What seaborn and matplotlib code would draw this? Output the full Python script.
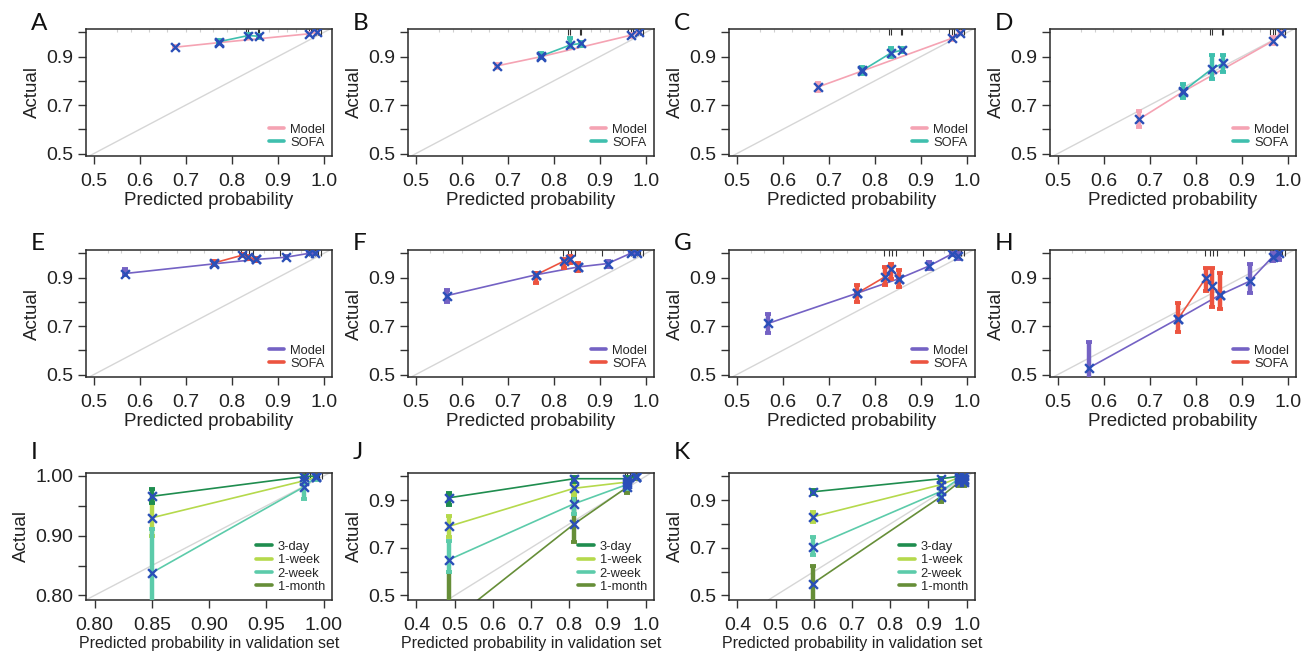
import numpy as np
import pandas as pd
import matplotlib
matplotlib.use("Agg")
import matplotlib.pyplot as plt
from matplotlib.lines import Line2D
import seaborn as sns

# ---------------- data ----------------
# Panels A-D (Model vs SOFA)
X_MODEL_AD = [0.677, 0.773, 0.967, 0.985]
X_SOFA_AD = [0.773, 0.836, 0.860]

A_MODEL_Y = [0.939, 0.958, 0.994, 1.000]
A_MODEL_LO = [0.934, 0.953, 0.990, 0.998]
A_MODEL_HI = [0.945, 0.964, 0.997, 1.000]
A_SOFA_Y = [0.962, 0.987, 0.984]
A_SOFA_LO = [0.956, 0.981, 0.978]
A_SOFA_HI = [0.967, 0.992, 0.990]

B_MODEL_Y = [0.862, 0.900, 0.988, 1.000]
B_MODEL_LO = [0.852, 0.893, 0.983, 0.998]
B_MODEL_HI = [0.870, 0.907, 0.993, 1.000]
B_SOFA_Y = [0.903, 0.948, 0.955]
B_SOFA_LO = [0.893, 0.940, 0.945]
B_SOFA_HI = [0.913, 0.975, 0.962]

C_MODEL_Y = [0.775, 0.841, 0.975, 0.999]
C_MODEL_LO = [0.760, 0.835, 0.968, 0.996]
C_MODEL_HI = [0.790, 0.848, 0.982, 1.000]
C_SOFA_Y = [0.843, 0.916, 0.927]
C_SOFA_LO = [0.828, 0.897, 0.918]
C_SOFA_HI = [0.857, 0.935, 0.937]

D_MODEL_Y = [0.642, 0.756, 0.964, 0.999]
D_MODEL_LO = [0.610, 0.745, 0.953, 0.995]
D_MODEL_HI = [0.675, 0.768, 0.983, 1.000]
D_SOFA_Y = [0.758, 0.851, 0.873]
D_SOFA_LO = [0.728, 0.808, 0.838]
D_SOFA_HI = [0.787, 0.905, 0.905]

# Panels E-H (Model vs SOFA)
X_MODEL_EH = [0.568, 0.762, 0.853, 0.917, 0.967, 0.982]
X_SOFA_EH = [0.762, 0.822, 0.836, 0.853]

E_MODEL_Y = [0.917, 0.957, 0.975, 0.984, 1.000, 1.000]
E_MODEL_LO = [0.912, 0.952, 0.970, 0.979, 0.997, 0.997]
E_MODEL_HI = [0.935, 0.962, 0.980, 0.989, 1.000, 1.000]
E_SOFA_Y = [0.961, 0.992, 0.985, 0.975]
E_SOFA_LO = [0.952, 0.988, 0.978, 0.968]
E_SOFA_HI = [0.968, 0.997, 0.991, 0.980]

F_MODEL_Y = [0.826, 0.912, 0.944, 0.958, 1.000, 1.000]
F_MODEL_LO = [0.800, 0.905, 0.935, 0.945, 0.996, 0.996]
F_MODEL_HI = [0.850, 0.920, 0.952, 0.970, 1.000, 1.000]
F_SOFA_Y = [0.912, 0.968, 0.976, 0.944]
F_SOFA_LO = [0.878, 0.940, 0.960, 0.928]
F_SOFA_HI = [0.918, 0.976, 0.990, 0.960]

G_MODEL_Y = [0.711, 0.836, 0.896, 0.947, 0.997, 0.989]
G_MODEL_LO = [0.670, 0.830, 0.890, 0.935, 0.993, 0.975]
G_MODEL_HI = [0.750, 0.842, 0.902, 0.965, 1.000, 1.000]
G_SOFA_Y = [0.836, 0.903, 0.937, 0.896]
G_SOFA_LO = [0.800, 0.868, 0.895, 0.862]
G_SOFA_HI = [0.870, 0.945, 0.955, 0.930]

H_MODEL_Y = [0.528, 0.731, 0.829, 0.885, 0.986, 1.000]
H_MODEL_LO = [0.450, 0.725, 0.823, 0.835, 0.970, 0.972]
H_MODEL_HI = [0.635, 0.737, 0.835, 0.955, 1.000, 1.000]
H_SOFA_Y = [0.731, 0.899, 0.864, 0.829]
H_SOFA_LO = [0.675, 0.845, 0.780, 0.770]
H_SOFA_HI = [0.795, 0.940, 0.940, 0.920]

# Panels I-K (validation set, horizons)
HORIZONS = ["3-day", "1-week", "2-week", "1-month"]

X_I = [0.850, 0.983, 0.993]
I_3D_Y = [0.966, 0.999, 1.000]
I_3D_LO = [0.955, 0.996, 0.999]
I_3D_HI = [0.979, 1.000, 1.000]
I_1W_Y = [0.930, 0.992, 0.998]
I_1W_LO = [0.900, 0.985, 0.995]
I_1W_HI = [0.958, 0.998, 1.000]
I_2W_Y = [0.838, 0.982, 0.998]
I_2W_LO = [0.750, 0.962, 0.994]
I_2W_HI = [0.911, 1.000, 1.000]

X_J = [0.485, 0.813, 0.952, 0.975]
J_3D_Y = [0.910, 0.990, 0.990, 1.000]
J_3D_LO = [0.880, 0.978, 0.983, 0.997]
J_3D_HI = [0.930, 0.996, 0.996, 1.000]
J_1W_Y = [0.790, 0.950, 0.976, 0.998]
J_1W_LO = [0.745, 0.920, 0.960, 0.994]
J_1W_HI = [0.835, 0.975, 0.990, 1.000]
J_2W_Y = [0.650, 0.885, 0.966, 0.998]
J_2W_LO = [0.600, 0.840, 0.948, 0.993]
J_2W_HI = [0.730, 0.935, 0.980, 1.000]
J_1M_Y = [0.385, 0.800, 0.955, 0.998]
J_1M_LO = [0.300, 0.725, 0.930, 0.990]
J_1M_HI = [0.600, 0.905, 0.985, 1.000]

X_K = [0.597, 0.933, 0.980, 0.993]
K_3D_Y = [0.935, 0.990, 1.000, 1.000]
K_3D_LO = [0.925, 0.984, 0.997, 0.997]
K_3D_HI = [0.942, 0.995, 1.000, 1.000]
K_1W_Y = [0.830, 0.965, 0.995, 0.990]
K_1W_LO = [0.810, 0.950, 0.990, 0.984]
K_1W_HI = [0.852, 0.980, 1.000, 0.995]
K_2W_Y = [0.705, 0.937, 0.990, 0.985]
K_2W_LO = [0.668, 0.915, 0.980, 0.975]
K_2W_HI = [0.745, 0.960, 1.000, 0.995]
K_1M_Y = [0.550, 0.915, 0.975, 0.975]
K_1M_LO = [0.460, 0.893, 0.960, 0.960]
K_1M_HI = [0.625, 0.962, 0.990, 0.990]

# rug marks (distribution of predictions) at top of panels
RUG_AD_DARK = [0.830, 0.836, 0.856, 0.860, 0.962, 0.967, 0.972, 0.978, 0.983, 0.988, 0.993]
RUG_AD_LIGHT = [0.55, 0.58, 0.62, 0.66, 0.70, 0.73, 0.76, 0.79, 0.81, 0.88, 0.90, 0.92, 0.94]
RUG_EH_DARK = [0.820, 0.831, 0.838, 0.847, 0.905, 0.962, 0.968, 0.975, 0.981, 0.987, 0.993]
RUG_EH_LIGHT = [0.53, 0.56, 0.60, 0.64, 0.68, 0.71, 0.74, 0.78, 0.80, 0.87, 0.89, 0.93, 0.95]
RUG_I_DARK = [0.984, 0.988, 0.992, 0.996, 0.999]
RUG_J_DARK = [0.945, 0.952, 0.958, 0.965, 0.975, 0.980]
RUG_K_DARK = [0.972, 0.978, 0.984, 0.990]

# ---------------- style ----------------
PINK = "#F5A3B3"
TEAL = "#3FBFAE"
PURPLE = "#7462C4"
RED = "#EC5440"
XBLUE = "#2A4FB8"
HCOL = {"3-day": "#1F8D4F", "1-week": "#B5D94C", "2-week": "#5CCBAA", "1-month": "#668E38"}

sns.set_style("ticks")
plt.rcParams["font.family"] = ["Liberation Sans", "DejaVu Sans"]

FW, FH = 1309, 656
fig = plt.figure(figsize=(FW / 100, FH / 100), dpi=100)

COL_LEFT = [86, 408, 729, 1050]
ROW_TOP = [29, 250, 473]
LETTER_TOP = [13, 233, 442]
AX_W, AX_H = 246, 127


def make_ax(r, c):
    l = COL_LEFT[c] / FW
    b = 1 - (ROW_TOP[r] + AX_H) / FH
    return fig.add_axes([l, b, AX_W / FW, AX_H / FH])


def draw_panel(ax, series, xlim, ylim, xticks, xtl, yticks, ytl, xlabel,
               xlabel_size, letter, r, c, rug_dark, rug_light, leg_names, leg_cols):
    frames = []
    for name, xs, ys, lo, hi, col in series:
        frames.append(pd.DataFrame({"x": xs, "y": ys, "series": name}))
    df = pd.concat(frames, ignore_index=True)
    pal = {s[0]: s[5] for s in series}
    ax.axline((0.5, 0.5), (1.0, 1.0), color="#d6d6d6", lw=1.0, zorder=1)
    sns.lineplot(data=df, x="x", y="y", hue="series", palette=pal, estimator=None,
                 sort=False, legend=False, ax=ax, lw=1.2, zorder=2)
    for name, xs, ys, lo, hi, col in series:
        ys_a = np.array(ys)
        err = [ys_a - np.array(lo), np.array(hi) - ys_a]
        ax.errorbar(xs, ys, yerr=err, fmt="none", ecolor=col, elinewidth=3.2,
                    capsize=2.4, capthick=2.8, zorder=3)
    sns.scatterplot(data=df, x="x", y="y", marker="x", color=XBLUE, s=40,
                    linewidth=1.7, zorder=5, legend=False, ax=ax)
    tr = ax.get_xaxis_transform()
    if rug_light:
        ax.vlines(rug_light, 0.978, 1.0, transform=tr, color="#cfcfcf", lw=0.8, zorder=1)
    if rug_dark:
        ax.vlines(rug_dark, 0.955, 1.0, transform=tr, color="#333333", lw=0.8, zorder=1)
    ax.set_xlim(*xlim)
    ax.set_ylim(*ylim)
    ax.set_xticks(xticks)
    ax.set_xticklabels(xtl)
    ax.set_yticks(yticks)
    ax.set_yticklabels(ytl)
    ax.set_xlabel(xlabel, fontsize=xlabel_size, labelpad=2, color="#222222")
    ax.set_ylabel("Actual", fontsize=13.5, labelpad=4, color="#222222")
    ax.tick_params(axis="both", direction="out", length=6, width=1.0, colors="#333333",
                   labelsize=14, labelcolor="#222222")
    ax.tick_params(axis="x", pad=6)
    ax.tick_params(axis="y", pad=3)
    for sp in ax.spines.values():
        sp.set_visible(True)
        sp.set_color("#2a2a2a")
        sp.set_linewidth(1.1)
    handles = [Line2D([0], [0], color=cc, lw=2.6) for cc in leg_cols]
    ax.legend(handles, leg_names, loc="lower right", frameon=False, fontsize=9.3,
              handlelength=1.2, handletextpad=0.45, labelspacing=0.1,
              borderaxespad=0.35, borderpad=0.2)
    fig.text((COL_LEFT[c] - 55) / FW, 1 - LETTER_TOP[r] / FH, letter,
             fontsize=17.5, family=["Lato", "DejaVu Sans"], va="top", ha="left",
             color="#111111")


X_TICKS = [0.5, 0.6, 0.7, 0.8, 0.9, 1.0]
X_TL = ["0.5", "0.6", "0.7", "0.8", "0.9", "1.0"]
Y_TICKS = [0.5, 0.6, 0.7, 0.8, 0.9, 1.0]
Y_TL = ["0.5", "", "0.7", "", "0.9", ""]
XLIM_R = (0.483, 1.018)
YLIM_R = (0.490, 1.014)

row1 = [
    ("A", A_MODEL_Y, A_MODEL_LO, A_MODEL_HI, A_SOFA_Y, A_SOFA_LO, A_SOFA_HI),
    ("B", B_MODEL_Y, B_MODEL_LO, B_MODEL_HI, B_SOFA_Y, B_SOFA_LO, B_SOFA_HI),
    ("C", C_MODEL_Y, C_MODEL_LO, C_MODEL_HI, C_SOFA_Y, C_SOFA_LO, C_SOFA_HI),
    ("D", D_MODEL_Y, D_MODEL_LO, D_MODEL_HI, D_SOFA_Y, D_SOFA_LO, D_SOFA_HI),
]
for c, (let, my, mlo, mhi, sy, slo, shi) in enumerate(row1):
    ax = make_ax(0, c)
    series = [("Model", X_MODEL_AD, my, mlo, mhi, PINK),
              ("SOFA", X_SOFA_AD, sy, slo, shi, TEAL)]
    draw_panel(ax, series, XLIM_R, YLIM_R, X_TICKS, X_TL, Y_TICKS, Y_TL,
               "Predicted probability", 13.5, let, 0, c, RUG_AD_DARK, RUG_AD_LIGHT,
               ["Model", "SOFA"], [PINK, TEAL])

row2 = [
    ("E", E_MODEL_Y, E_MODEL_LO, E_MODEL_HI, E_SOFA_Y, E_SOFA_LO, E_SOFA_HI),
    ("F", F_MODEL_Y, F_MODEL_LO, F_MODEL_HI, F_SOFA_Y, F_SOFA_LO, F_SOFA_HI),
    ("G", G_MODEL_Y, G_MODEL_LO, G_MODEL_HI, G_SOFA_Y, G_SOFA_LO, G_SOFA_HI),
    ("H", H_MODEL_Y, H_MODEL_LO, H_MODEL_HI, H_SOFA_Y, H_SOFA_LO, H_SOFA_HI),
]
for c, (let, my, mlo, mhi, sy, slo, shi) in enumerate(row2):
    ax = make_ax(1, c)
    series = [("Model", X_MODEL_EH, my, mlo, mhi, PURPLE),
              ("SOFA", X_SOFA_EH, sy, slo, shi, RED)]
    draw_panel(ax, series, XLIM_R, YLIM_R, X_TICKS, X_TL, Y_TICKS, Y_TL,
               "Predicted probability", 13.5, let, 1, c, RUG_EH_DARK, RUG_EH_LIGHT,
               ["Model", "SOFA"], [PURPLE, RED])

# Panel I
ax = make_ax(2, 0)
series = [("1-week", X_I, I_1W_Y, I_1W_LO, I_1W_HI, HCOL["1-week"]),
          ("2-week", X_I, I_2W_Y, I_2W_LO, I_2W_HI, HCOL["2-week"]),
          ("3-day", X_I, I_3D_Y, I_3D_LO, I_3D_HI, HCOL["3-day"])]
draw_panel(ax, series, (0.7925, 1.0073), (0.7923, 1.005),
           [0.80, 0.85, 0.90, 0.95, 1.00], ["0.80", "0.85", "0.90", "0.95", "1.00"],
           [0.80, 0.85, 0.90, 0.95, 1.00], ["0.80", "", "0.90", "", "1.00"],
           "Predicted probability in validation set", 11.5, "I", 2, 0,
           RUG_I_DARK, None, HORIZONS, [HCOL[h] for h in HORIZONS])

XJ_TICKS = [0.4, 0.5, 0.6, 0.7, 0.8, 0.9, 1.0]
XJ_TL = ["0.4", "0.5", "0.6", "0.7", "0.8", "0.9", "1.0"]

# Panel J
ax = make_ax(2, 1)
series = [("1-month", X_J, J_1M_Y, J_1M_LO, J_1M_HI, HCOL["1-month"]),
          ("2-week", X_J, J_2W_Y, J_2W_LO, J_2W_HI, HCOL["2-week"]),
          ("1-week", X_J, J_1W_Y, J_1W_LO, J_1W_HI, HCOL["1-week"]),
          ("3-day", X_J, J_3D_Y, J_3D_LO, J_3D_HI, HCOL["3-day"])]
draw_panel(ax, series, (0.378, 1.022), (0.481, 1.014), XJ_TICKS, XJ_TL,
           Y_TICKS, Y_TL, "Predicted probability in validation set", 11.5, "J", 2, 1,
           RUG_J_DARK, None, HORIZONS, [HCOL[h] for h in HORIZONS])

# Panel K
ax = make_ax(2, 2)
series = [("1-month", X_K, K_1M_Y, K_1M_LO, K_1M_HI, HCOL["1-month"]),
          ("2-week", X_K, K_2W_Y, K_2W_LO, K_2W_HI, HCOL["2-week"]),
          ("1-week", X_K, K_1W_Y, K_1W_LO, K_1W_HI, HCOL["1-week"]),
          ("3-day", X_K, K_3D_Y, K_3D_LO, K_3D_HI, HCOL["3-day"])]
draw_panel(ax, series, (0.378, 1.022), (0.481, 1.014), XJ_TICKS, XJ_TL,
           Y_TICKS, Y_TL, "Predicted probability in validation set", 11.5, "K", 2, 2,
           RUG_K_DARK, None, HORIZONS, [HCOL[h] for h in HORIZONS])

fig.savefig("out.png", dpi=100, facecolor="white")
